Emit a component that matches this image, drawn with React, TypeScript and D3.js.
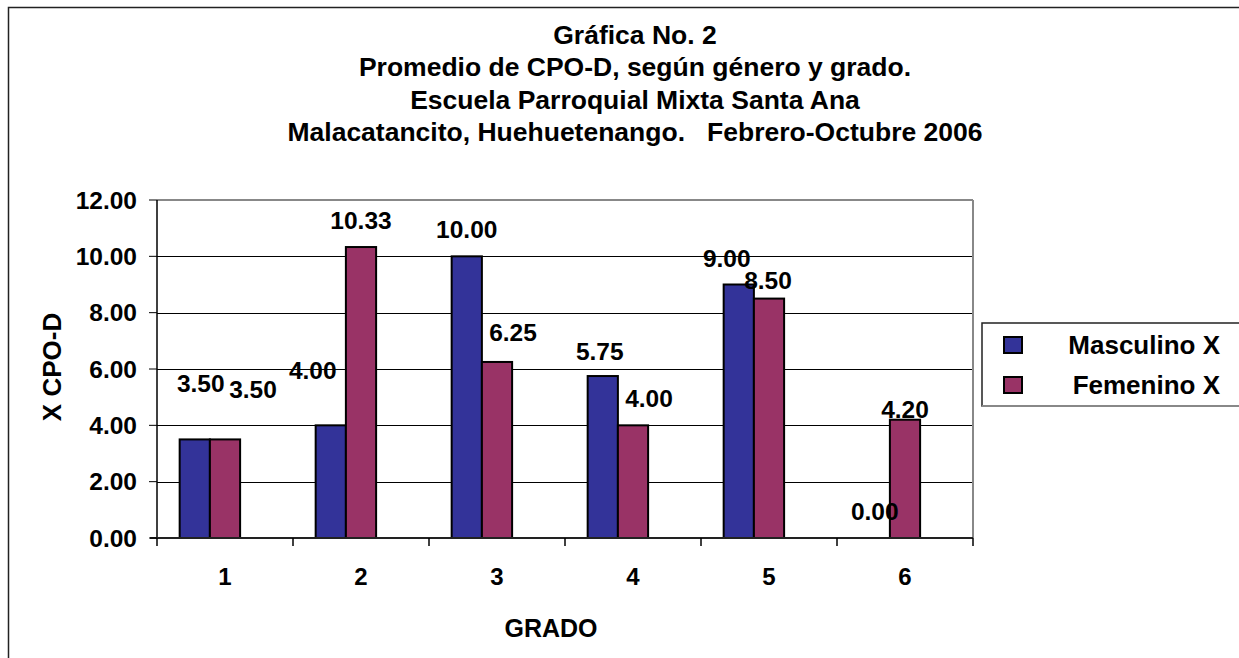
import React from 'react';
import * as d3 from 'd3';

const categories = ['1', '2', '3', '4', '5', '6'];
const masculino = [3.5, 4.0, 10.0, 5.75, 9.0, 0.0];
const femenino = [3.5, 10.33, 6.25, 4.0, 8.5, 4.2];
const yTicks = [0, 2, 4, 6, 8, 10, 12];
const seriesNames = ['Masculino X', 'Femenino X'];
const titleLines = [
  'Gráfica No. 2',
  'Promedio de CPO-D, según género y grado.',
  'Escuela Parroquial Mixta Santa Ana',
  'Malacatancito, Huehuetenango.   Febrero-Octubre 2006',
];

// layout-only nudges for the manually placed data labels (dx, dy from bar top centre)
const mascNudge = [[6, -56], [-18, -55], [0, -27], [-3, -25], [-12, -26], [0, -27]];
const femNudge = [[28, -50], [0, -27], [16, -29], [16, -27], [-1, -18], [0, -10]];

const COLORS = ['#333399', '#993366'];
const FONT = '"Liberation Sans", Arial, Helvetica, sans-serif';

export default function App() {
  const W = 1239, H = 658;
  const plot = { left: 157, right: 973, top: 200, bottom: 538 };
  const x = d3.scaleBand<string>().domain(categories).range([plot.left, plot.right]).paddingInner(0).paddingOuter(0);
  const sub = d3.scaleBand<string>().domain(['m', 'f', 'empty']).range([0, x.bandwidth()]).paddingInner(0).paddingOuter(0.75);
  const y = d3.scaleLinear().domain([0, 12]).range([plot.bottom, plot.top]);
  const series = [masculino, femenino];
  const keys = ['m', 'f'];
  const nudges = [mascNudge, femNudge];

  return (
    <svg width={W} height={H} style={{ position: 'absolute', left: 0, top: 0, background: '#fff' }} fontFamily={FONT}>
      <rect x={0} y={0} width={W} height={H} fill="#fff" />
      <rect x={8.5} y={7.5} width={1400} height={800} fill="none" stroke="#222" strokeWidth={1.5} />

      {titleLines.map((t, i) => (
        <text key={i} x={635} y={44 + i * 32.4} textAnchor="middle" fontSize={26.5} fontWeight="bold" xmlSpace="preserve" style={{ whiteSpace: 'pre' }}>
          {t}
        </text>
      ))}

      {/* gridlines */}
      {yTicks.filter(t => t > 0 && t < 12).map(t => (
        <line key={t} x1={plot.left} x2={plot.right} y1={Math.round(y(t)) + 0.5} y2={Math.round(y(t)) + 0.5} stroke="#000" strokeWidth={1} />
      ))}
      {/* plot border top/right */}
      <line x1={plot.left} x2={plot.right} y1={plot.top} y2={plot.top} stroke="#888" strokeWidth={2} />
      <line x1={plot.right} x2={plot.right} y1={plot.top} y2={plot.bottom} stroke="#888" strokeWidth={2} />

      {/* bars */}
      {series.map((vals, s) =>
        vals.map((v, i) => {
          const bx = (x(categories[i]) as number) + (sub(keys[s]) as number);
          const by = y(v);
          const h = plot.bottom - by;
          return h > 0 ? (
            <rect key={`${s}-${i}`} x={bx} y={by} width={sub.bandwidth()} height={h} fill={COLORS[s]} stroke="#000" strokeWidth={2} />
          ) : null;
        })
      )}

      {/* axes */}
      <line x1={plot.left} x2={plot.left} y1={plot.top} y2={plot.bottom} stroke="#000" strokeWidth={1.5} />
      <line x1={plot.left - 7} x2={plot.right} y1={plot.bottom} y2={plot.bottom} stroke="#222" strokeWidth={2} />
      {yTicks.map(t => (
        <g key={t}>
          <line x1={plot.left - 8} x2={plot.left} y1={y(t)} y2={y(t)} stroke="#000" strokeWidth={1} />
          <text x={137} y={y(t) + 8.5} textAnchor="end" fontSize={24.5} fontWeight="bold">{t.toFixed(2)}</text>
        </g>
      ))}
      {categories.concat(['__end']).map((c, i) => {
        const tx = i < categories.length ? (x(c) as number) : plot.right;
        return <line key={c} x1={tx} x2={tx} y1={plot.bottom} y2={plot.bottom + 8} stroke="#000" strokeWidth={1.5} />;
      })}
      {categories.map(c => (
        <text key={c} x={(x(c) as number) + x.bandwidth() / 2} y={585} textAnchor="middle" fontSize={24} fontWeight="bold">{c}</text>
      ))}

      {/* data labels */}
      {series.map((vals, s) =>
        vals.map((v, i) => {
          const cx = (x(categories[i]) as number) + (sub(keys[s]) as number) + sub.bandwidth() / 2 + nudges[s][i][0];
          const cy = y(v) + nudges[s][i][1];
          return (
            <text key={`l${s}-${i}`} x={cx} y={cy + 8.5} textAnchor="middle" fontSize={24.5} fontWeight="bold">{v.toFixed(2)}</text>
          );
        })
      )}

      {/* axis titles */}
      <text x={551} y={637} textAnchor="middle" fontSize={25} fontWeight="bold">GRADO</text>
      <text transform={`translate(61, 367) rotate(-90)`} textAnchor="middle" fontSize={26} fontWeight="bold">X CPO-D</text>

      {/* legend */}
      <rect x={982} y={323} width={400} height={83} fill="#fff" stroke="#222" strokeWidth={1.5} />
      <line x1={982} x2={1239} y1={406} y2={406} stroke="#888" strokeWidth={2} />
      {seriesNames.map((n, i) => (
        <g key={n}>
          <rect x={1004} y={337 + i * 40} width={18} height={16} fill={COLORS[i]} stroke="#000" strokeWidth={2} />
          <text x={1220} y={354 + i * 40} textAnchor="end" fontSize={26} fontWeight="bold">{n}</text>
        </g>
      ))}
    </svg>
  );
}
